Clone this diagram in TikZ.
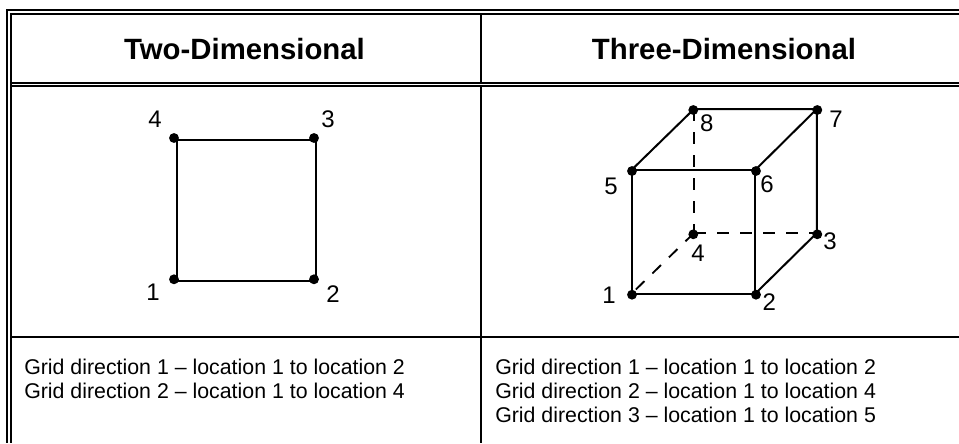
\documentclass[tikz,border=0pt]{standalone}
\usepackage{fontspec}
\setmainfont{Liberation Sans}
\usetikzlibrary{positioning}

\begin{document}
\begin{tikzpicture}[
            x=0.75pt, y=-0.75pt,
            rule/.style={line width=1.5pt},
            edge/.style={line width=1.5pt},
            hidden/.style={line width=1.4pt, dash pattern=on 9pt off 8.25pt},
            dot/.style={circle, fill=black, inner sep=0pt, minimum size=7.4pt},
            num/.style={font=\fontsize{18}{20}\selectfont, inner sep=0pt},
            head/.style={font=\fontsize{22}{24}\selectfont\bfseries, inner sep=0pt, anchor=base},
            body/.style={font=\fontsize{16}{18}\selectfont, inner sep=0pt, anchor=base west}
        ]
            \useasboundingbox (0,0) rectangle (959,443);

            % table rules
            \draw[rule] (6.7,9) -- (6.7,443);
            \draw[rule] (11,13) -- (11,443);
            \draw[rule] (6,10.2) -- (959,10.2);
            \draw[rule] (10,14.2) -- (959,14.2);
            \draw[rule] (11,83) -- (959,83);
            \draw[rule] (11,86.3) -- (959,86.3);
            \draw[rule] (11,336.5) -- (959,336.5);
            \draw[rule] (481,14) -- (481,83);
            \draw[rule] (481,86) -- (481,443);

            \node[head] (twohead) at (244.5,59.3) {Two-Dimensional};
            \node[head] (threehead) at (724,59.3) {Three-Dimensional};

            % square
            \coordinate (s1) at (176.7,281.3);
            \coordinate (s2) at (316,281.3);
            \coordinate (s3) at (316,140.3);
            \coordinate (s4) at (176.7,140.3);
            \draw[edge, line join=miter] (s1) -- (s2) -- (s3) -- (s4) -- cycle;

            \node[dot] (p1) at (174,279.3) {};
            \node[dot] (p2) at (314,279.3) {};
            \node[dot] (p3) at (314,138) {};
            \node[dot] (p4) at (174,138) {};
            \node[num] (n1) at (153,292) {1};
            \node[num] (n2) at (333,294) {2};
            \node[num] (n3) at (328,119) {3};
            \node[num] (n4) at (155,119) {4};

            % cube
            \coordinate (c1) at (631.5,293.7);
            \coordinate (c2) at (755.2,293.7);
            \coordinate (c3) at (816.8,233);
            \coordinate (c4) at (694,233);
            \coordinate (c5) at (631.5,170);
            \coordinate (c6) at (755.2,170);
            \coordinate (c7) at (816.8,109);
            \coordinate (c8) at (694,109);
            \draw[hidden] (c8) -- (c4);
            \draw[hidden] (c4) -- (c3);
            \draw[hidden] (c4) -- (c1);
            \draw[edge] (c1) -- (c2) -- (c6) -- (c5) -- cycle;
            \draw[edge] (c5) -- (c8) -- (c7) -- (c6);
            \draw[edge] (c2) -- (c3) -- (c7);

            \node[dot] (q1) at (632,294.7) {};
            \node[dot] (q2) at (756,294.7) {};
            \node[dot] (q3) at (817.3,234.3) {};
            \node[dot] (q4) at (693.3,234.3) {};
            \node[dot] (q5) at (632,171) {};
            \node[dot] (q6) at (756,171) {};
            \node[dot] (q7) at (817.3,110) {};
            \node[dot] (q8) at (693.3,110) {};
            \node[num] (m1) at (609,295.3) {1};
            \node[num] (m2) at (769.3,302) {2};
            \node[num] (m3) at (830,241) {3};
            \node[num] (m4) at (698,253.7) {4};
            \node[num] (m5) at (611,186) {5};
            \node[num] (m6) at (767,184) {6};
            \node[num] (m7) at (836,119) {7};
            \node[num] (m8) at (706.7,123) {8};

            % directions
            \node[body] (l1) at (24,374.3) {Grid direction 1 – location 1 to location 2};
            \node[body] (l2) at (24,398.3) {Grid direction 2 – location 1 to location 4};
            \node[body] (r1) at (495,374.3) {Grid direction 1 – location 1 to location 2};
            \node[body] (r2) at (495,398.3) {Grid direction 2 – location 1 to location 4};
            \node[body] (r3) at (495,422.5) {Grid direction 3 – location 1 to location 5};
        \end{tikzpicture}
\end{document}
